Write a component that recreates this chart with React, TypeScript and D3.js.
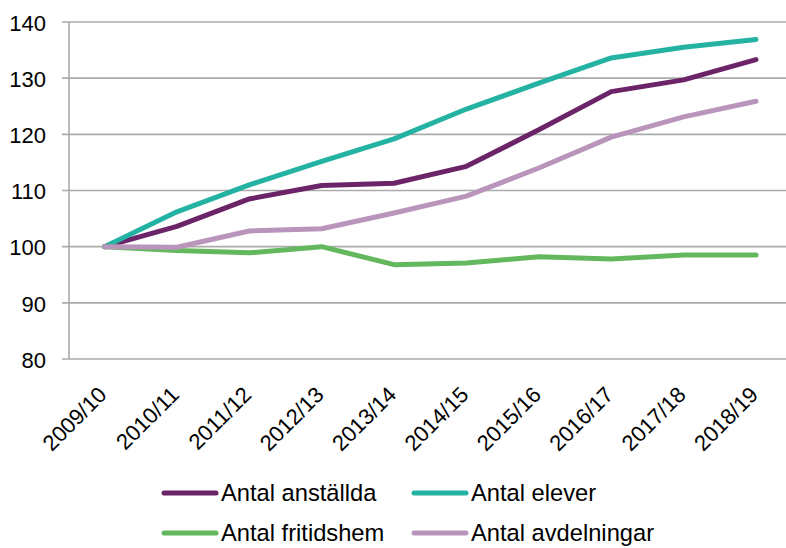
import React from "react";
import * as d3 from "d3";

const categories = ["2009/10", "2010/11", "2011/12", "2012/13", "2013/14", "2014/15", "2015/16", "2016/17", "2017/18", "2018/19"];
const anstallda = [100, 103.6, 108.5, 110.9, 111.3, 114.3, 120.8, 127.6, 129.7, 133.3];
const elever = [100, 106.2, 111.0, 115.2, 119.2, 124.5, 129.1, 133.6, 135.5, 136.9];
const fritidshem = [100, 99.3, 98.9, 100.0, 96.8, 97.1, 98.2, 97.8, 98.5, 98.5];
const avdelningar = [100, 99.9, 102.8, 103.2, 106.0, 109.0, 114.0, 119.5, 123.1, 125.9];
const yTicks = [80, 90, 100, 110, 120, 130, 140];

const seriesNames = ["Antal anställda", "Antal elever", "Antal fritidshem", "Antal avdelningar"];
const seriesValues = [anstallda, elever, fritidshem, avdelningar];
const seriesColors = ["#6B2468", "#24B3A2", "#63B85E", "#B995BB"];

const W = 786;
const H = 548;
const FONT = "Arial, 'Liberation Sans', sans-serif";
const GRID = "#ABABAB";

export default function App() {
  const x = d3.scalePoint<string>().domain(categories).range([104.5, 756]);
  const y = d3.scaleLinear().domain([80, 140]).range([359, 22]);
  const line = d3
    .line<number>()
    .x((_, i) => x(categories[i]) as number)
    .y((d) => y(d));

  const legendPos = [
    { lx: 164, ly: 493 },
    { lx: 414, ly: 493 },
    { lx: 164, ly: 533 },
    { lx: 414, ly: 533 },
  ];

  return (
    <svg width={W} height={H} style={{ position: "absolute", left: 0, top: 0, background: "#fff" }} fontFamily={FONT}>
      {yTicks.map((t) => (
        <g key={t}>
          <line x1={62} x2={W} y1={y(t)} y2={y(t)} stroke={GRID} strokeWidth={1.6} />
          <text x={46} y={y(t)} dy="0.4em" textAnchor="end" fontSize={22} fill="#000">
            {t}
          </text>
        </g>
      ))}
      <line x1={69} x2={69} y1={y(140)} y2={y(80)} stroke={GRID} strokeWidth={1.6} />
      {categories.map((c) => {
        const cx = (x(c) as number) + 3.5;
        const cy = 396;
        return (
          <text key={c} x={cx} y={cy} transform={`rotate(-45 ${cx} ${cy})`} textAnchor="end" fontSize={22} fill="#000">
            {c}
          </text>
        );
      })}
      {seriesValues.map((vals, i) => (
        <path
          key={seriesNames[i]}
          d={line(vals) || ""}
          fill="none"
          stroke={seriesColors[i]}
          strokeWidth={5}
          strokeLinecap="round"
          strokeLinejoin="round"
        />
      ))}
      {seriesNames.map((n, i) => {
        const p = legendPos[i];
        return (
          <g key={n}>
            <line x1={p.lx} x2={p.lx + 52} y1={p.ly} y2={p.ly} stroke={seriesColors[i]} strokeWidth={5} strokeLinecap="round" />
            <text x={p.lx + 57} y={p.ly} dy="0.35em" fontSize={23.7} fill="#000">
              {n}
            </text>
          </g>
        );
      })}
    </svg>
  );
}
